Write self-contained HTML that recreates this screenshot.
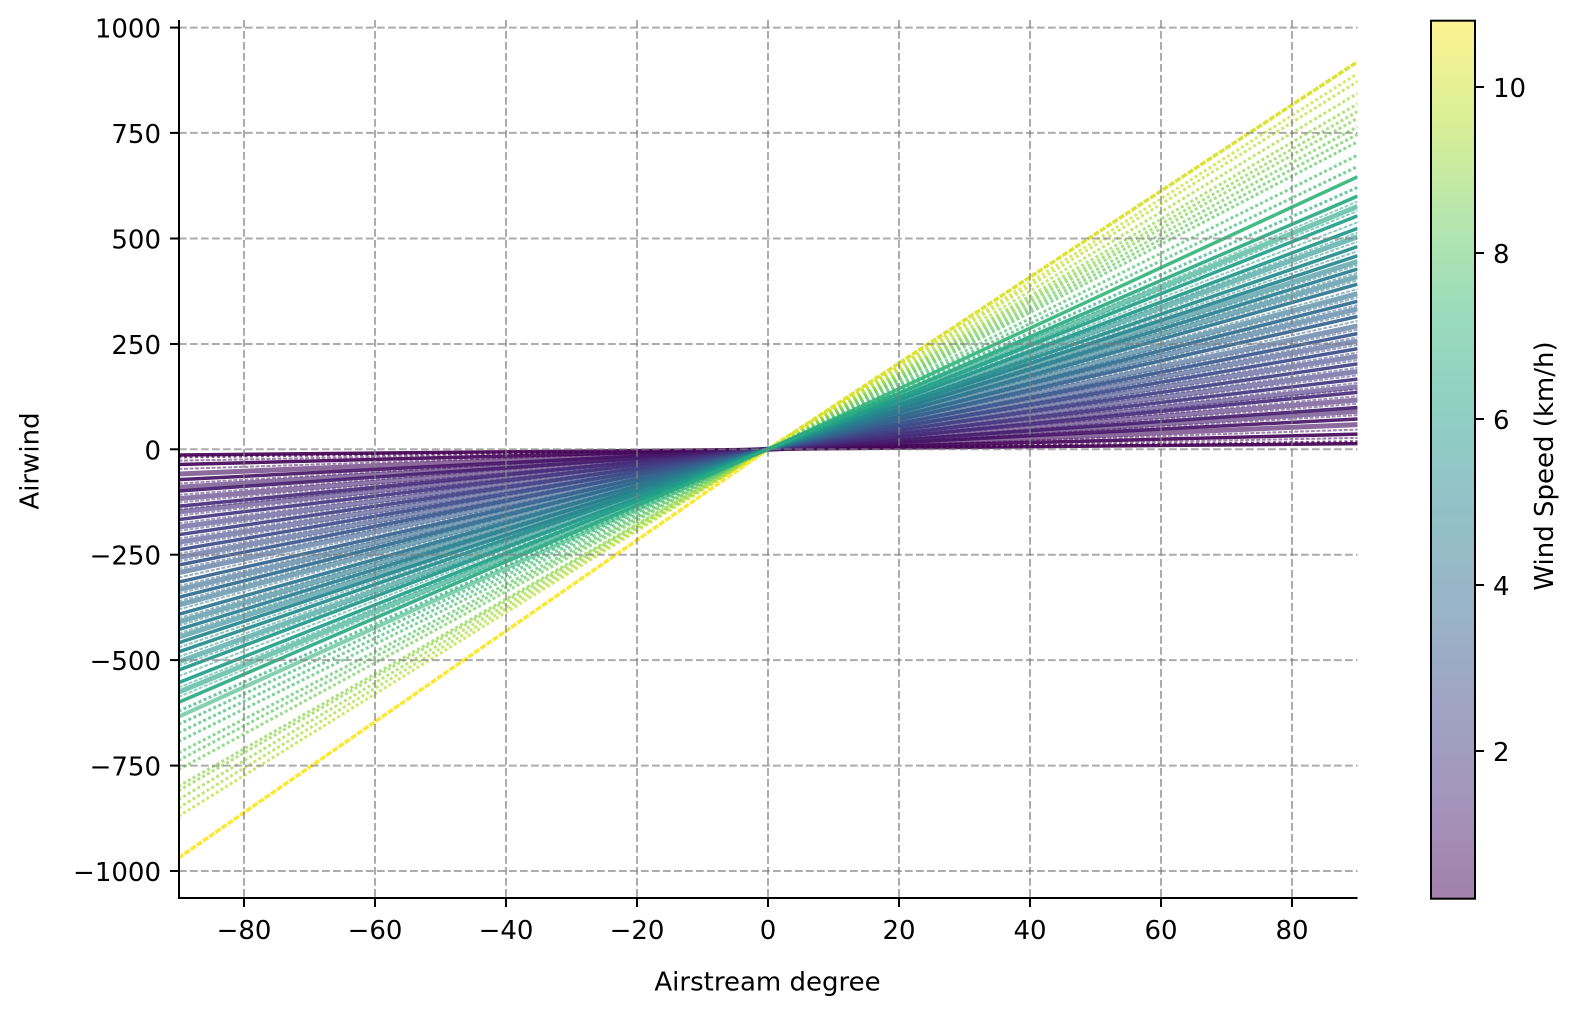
<!DOCTYPE html>
<html>
<head>
<meta charset="utf-8">
<style>
  html, body { margin:0; padding:0; background:#ffffff; }
  body { width:1582px; height:1015px; overflow:hidden; }
  svg { display:block; }
  text { font-family: "DejaVu Sans", "Liberation Sans", sans-serif; font-size:26px; fill:#000; }
  .s { stroke-width:3.5; stroke-opacity:0.92; fill:none; }
  .b { stroke-width:5; stroke-opacity:0.62; fill:none; }
  .t { stroke-width:2; stroke-opacity:0.5; fill:none; stroke-dasharray:4 1.5; }
  .d { stroke-width:3; stroke-opacity:0.7; stroke-dasharray:3 2.5; fill:none; }
  .y { stroke-width:3.5; stroke-opacity:0.95; stroke-dasharray:6 1.5; fill:none; }
  .g { stroke:#808080; stroke-opacity:0.65; stroke-width:2; stroke-dasharray:7.7 3.3; }
  .k { stroke:#000; stroke-width:2; }
</style>
</head>
<body>
<svg width="1582" height="1015" viewBox="0 0 1582 1015" xmlns="http://www.w3.org/2000/svg">
  <defs>
    <clipPath id="pc"><rect x="179" y="20" width="1178.5" height="878"/></clipPath>
    <linearGradient id="cb" x1="0" y1="1" x2="0" y2="0">
      <stop offset="0" stop-color="#a280aa"/>
      <stop offset="0.1111" stop-color="#a494bc"/>
      <stop offset="0.2222" stop-color="#9fa4c4"/>
      <stop offset="0.3333" stop-color="#98b4c7"/>
      <stop offset="0.4444" stop-color="#93c1c7"/>
      <stop offset="0.5556" stop-color="#8fcfc4"/>
      <stop offset="0.6667" stop-color="#9adbbc"/>
      <stop offset="0.7778" stop-color="#b7e7ac"/>
      <stop offset="0.8889" stop-color="#daef95"/>
      <stop offset="1" stop-color="#fef392"/>
    </linearGradient>
  </defs>

  <!-- data -->
  <g clip-path="url(#pc)">
    <!-- thin in-between scatter lines -->
    <line class="t" stroke="#440256" x1="178.5" y1="460.69" x2="1357.5" y2="437.91"/>
    <line class="t" stroke="#450b5e" x1="178.5" y1="469.03" x2="1357.5" y2="429.57"/>
    <line class="t" stroke="#47186a" x1="178.5" y1="483.46" x2="1357.5" y2="415.14"/>
    <line class="t" stroke="#482272" x1="178.5" y1="494.84" x2="1357.5" y2="403.76"/>
    <line class="t" stroke="#482878" x1="178.5" y1="502.43" x2="1357.5" y2="396.17"/>
    <line class="t" stroke="#472d7b" x1="178.5" y1="509.26" x2="1357.5" y2="389.34"/>
    <line class="t" stroke="#45327e" x1="178.5" y1="515.71" x2="1357.5" y2="382.89"/>
    <line class="t" stroke="#433781" x1="178.5" y1="523.30" x2="1357.5" y2="375.30"/>
    <line class="t" stroke="#423d83" x1="178.5" y1="530.89" x2="1357.5" y2="367.71"/>
    <line class="t" stroke="#404386" x1="178.5" y1="538.48" x2="1357.5" y2="360.12"/>
    <line class="t" stroke="#3e4888" x1="178.5" y1="546.07" x2="1357.5" y2="352.53"/>
    <line class="t" stroke="#3c4e89" x1="178.5" y1="553.66" x2="1357.5" y2="344.94"/>
    <line class="t" stroke="#3a538a" x1="178.5" y1="561.25" x2="1357.5" y2="337.35"/>
    <line class="t" stroke="#38588b" x1="178.5" y1="568.84" x2="1357.5" y2="329.76"/>
    <line class="t" stroke="#365f8c" x1="178.5" y1="577.57" x2="1357.5" y2="321.03"/>
    <line class="t" stroke="#33658d" x1="178.5" y1="585.92" x2="1357.5" y2="312.68"/>
    <line class="t" stroke="#31698e" x1="178.5" y1="593.51" x2="1357.5" y2="305.09"/>
    <line class="t" stroke="#2f6e8e" x1="178.5" y1="601.10" x2="1357.5" y2="297.50"/>
    <line class="t" stroke="#2c738e" x1="178.5" y1="609.45" x2="1357.5" y2="289.15"/>
    <line class="t" stroke="#2b788e" x1="178.5" y1="618.18" x2="1357.5" y2="280.42"/>
    <line class="t" stroke="#297c8e" x1="178.5" y1="625.77" x2="1357.5" y2="272.83"/>
    <line class="t" stroke="#27818e" x1="178.5" y1="633.36" x2="1357.5" y2="265.24"/>
    <line class="t" stroke="#25898d" x1="178.5" y1="647.40" x2="1357.5" y2="251.20"/>
    <line class="t" stroke="#238f8c" x1="178.5" y1="656.89" x2="1357.5" y2="241.71"/>
    <line class="t" stroke="#22958b" x1="178.5" y1="665.99" x2="1357.5" y2="232.61"/>
    <line class="t" stroke="#209b89" x1="178.5" y1="676.24" x2="1357.5" y2="222.36"/>
    <line class="t" stroke="#22a287" x1="178.5" y1="687.63" x2="1357.5" y2="210.97"/>
    <line class="t" stroke="#27a783" x1="178.5" y1="697.11" x2="1357.5" y2="201.49"/>

    <!-- bands -->
    <line class="b" stroke="#460f61" x1="178.5" y1="473.97" x2="1357.5" y2="424.63"/>
    <line class="b" stroke="#471b6c" x1="178.5" y1="487.25" x2="1357.5" y2="411.35"/>
    <line class="b" stroke="#482575" x1="178.5" y1="498.64" x2="1357.5" y2="399.96"/>
    <line class="b" stroke="#462f7c" x1="178.5" y1="511.92" x2="1357.5" y2="386.68"/>
    <line class="b" stroke="#423a82" x1="178.5" y1="527.10" x2="1357.5" y2="371.50"/>
    <line class="b" stroke="#3f4687" x1="178.5" y1="542.28" x2="1357.5" y2="356.32"/>
    <line class="b" stroke="#3b508a" x1="178.5" y1="557.46" x2="1357.5" y2="341.14"/>
    <line class="b" stroke="#375b8c" x1="178.5" y1="572.64" x2="1357.5" y2="325.96"/>
    <line class="b" stroke="#32678e" x1="178.5" y1="589.72" x2="1357.5" y2="308.88"/>
    <line class="b" stroke="#2e708e" x1="178.5" y1="604.90" x2="1357.5" y2="293.70"/>
    <line class="b" stroke="#2a7a8e" x1="178.5" y1="621.97" x2="1357.5" y2="276.63"/>
    <line class="b" stroke="#26838e" x1="178.5" y1="637.15" x2="1357.5" y2="261.45"/>
    <line class="b" stroke="#22928b" x1="178.5" y1="661.82" x2="1357.5" y2="236.78"/>
    <line class="b" stroke="#25a485" x1="178.5" y1="692.18" x2="1357.5" y2="206.42"/>

    <!-- scattered / dotted -->
    <line class="d" stroke="#440154" x1="178.5" y1="456.89" x2="1357.5" y2="441.71"/>
    <line class="d" stroke="#2eaf7e" x1="178.5" y1="711.16" x2="1357.5" y2="187.44"/>

    <!-- left-only high lines -->
    <line class="b" stroke="#31b27c" style="stroke-width:4;stroke-opacity:0.6" x1="178.5" y1="716.85" x2="768" y2="449.3"/>
    <line class="d" stroke="#37b877" x1="178.5" y1="724.44" x2="768" y2="449.3"/>
    <line class="d" stroke="#3fbb74" x1="178.5" y1="732.79" x2="768" y2="449.3"/>
    <line class="d" stroke="#49bf6e" x1="178.5" y1="741.52" x2="768" y2="449.3"/>
    <line class="d" stroke="#58c565" x1="178.5" y1="752.90" x2="768" y2="449.3"/>
    <line class="d" stroke="#60c862" x1="178.5" y1="760.49" x2="768" y2="449.3"/>
    <line class="d" stroke="#6ece58" x1="178.5" y1="769.60" x2="768" y2="449.3"/>
    <line class="d" stroke="#88d44b" x1="178.5" y1="786.30" x2="768" y2="449.3"/>
    <line class="d" stroke="#90d645" x1="178.5" y1="790.85" x2="768" y2="449.3"/>
    <line class="d" stroke="#9dd93f" x1="178.5" y1="799.58" x2="768" y2="449.3"/>
    <line class="d" stroke="#abdc36" x1="178.5" y1="807.93" x2="768" y2="449.3"/>
    <line class="d" stroke="#b8de2c" x1="178.5" y1="816.30" x2="768" y2="449.3"/>
    <line class="y" stroke="#fbe725" x1="178.5" y1="858.02" x2="768" y2="449.3"/>

    <!-- right-only high lines -->
    <line class="d" stroke="#3fbb74" x1="768" y1="449.3" x2="1357.5" y2="166.57"/>
    <line class="d" stroke="#4cc06c" x1="768" y1="449.3" x2="1357.5" y2="155.19"/>
    <line class="d" stroke="#5cc763" x1="768" y1="449.3" x2="1357.5" y2="141.90"/>
    <line class="d" stroke="#67cb5c" x1="768" y1="449.3" x2="1357.5" y2="134.30"/>
    <line class="d" stroke="#72cf55" x1="768" y1="449.3" x2="1357.5" y2="126.72"/>
    <line class="d" stroke="#7ed250" x1="768" y1="449.3" x2="1357.5" y2="118.38"/>
    <line class="d" stroke="#89d44a" x1="768" y1="449.3" x2="1357.5" y2="111.54"/>
    <line class="d" stroke="#93d743" x1="768" y1="449.3" x2="1357.5" y2="103.95"/>
    <line class="d" stroke="#a6db39" x1="768" y1="449.3" x2="1357.5" y2="93.33"/>
    <line class="d" stroke="#b9de2b" x1="768" y1="449.3" x2="1357.5" y2="81.56"/>
    <line class="d" stroke="#c6e02a" x1="768" y1="449.3" x2="1357.5" y2="73.59"/>
    <line class="y" stroke="#d9e228" x1="768" y1="449.3" x2="1357.5" y2="61.83"/>
    <line class="s" stroke="#33b57a" x1="768" y1="449.3" x2="1357.5" y2="176.82"/>

    <!-- solid lines -->
    <line class="s" stroke="#440154" x1="178.5" y1="454.99" x2="1357.5" y2="443.61"/>
    <line class="s" stroke="#45065a" x1="178.5" y1="464.48" x2="1357.5" y2="434.12"/>
    <line class="s" stroke="#461466" x1="178.5" y1="479.66" x2="1357.5" y2="418.94"/>
    <line class="s" stroke="#471e6f" x1="178.5" y1="491.05" x2="1357.5" y2="407.55"/>
    <line class="s" stroke="#472b7a" x1="178.5" y1="506.23" x2="1357.5" y2="392.37"/>
    <line class="s" stroke="#44357f" x1="178.5" y1="519.51" x2="1357.5" y2="379.09"/>
    <line class="s" stroke="#414084" x1="178.5" y1="534.69" x2="1357.5" y2="363.91"/>
    <line class="s" stroke="#3d4b89" x1="178.5" y1="549.87" x2="1357.5" y2="348.73"/>
    <line class="s" stroke="#39568b" x1="178.5" y1="565.05" x2="1357.5" y2="333.55"/>
    <line class="s" stroke="#34628d" x1="178.5" y1="582.13" x2="1357.5" y2="316.47"/>
    <line class="s" stroke="#306b8e" x1="178.5" y1="597.31" x2="1357.5" y2="301.29"/>
    <line class="s" stroke="#2b758e" x1="178.5" y1="614.38" x2="1357.5" y2="284.22"/>
    <line class="s" stroke="#287e8e" x1="178.5" y1="629.56" x2="1357.5" y2="269.04"/>
    <line class="s" stroke="#25868d" x1="178.5" y1="642.85" x2="1357.5" y2="255.75"/>
    <line class="s" stroke="#248c8c" x1="178.5" y1="651.95" x2="1357.5" y2="246.65"/>
    <line class="s" stroke="#21978a" x1="178.5" y1="670.17" x2="1357.5" y2="228.43"/>
    <line class="s" stroke="#209f88" x1="178.5" y1="682.69" x2="1357.5" y2="215.91"/>
    <line class="s" stroke="#2aaa81" x1="178.5" y1="702.43" x2="1357.5" y2="196.17"/>
  </g>

  <!-- grid (drawn over data) -->
  <g class="g">
    <line x1="244" y1="20" x2="244" y2="898"/>
    <line x1="375" y1="20" x2="375" y2="898"/>
    <line x1="506" y1="20" x2="506" y2="898"/>
    <line x1="637" y1="20" x2="637" y2="898"/>
    <line x1="768" y1="20" x2="768" y2="898"/>
    <line x1="899" y1="20" x2="899" y2="898"/>
    <line x1="1030" y1="20" x2="1030" y2="898"/>
    <line x1="1161" y1="20" x2="1161" y2="898"/>
    <line x1="1292" y1="20" x2="1292" y2="898"/>
    <line x1="179" y1="27.6" x2="1357.5" y2="27.6"/>
    <line x1="179" y1="132.9" x2="1357.5" y2="132.9"/>
    <line x1="179" y1="238.5" x2="1357.5" y2="238.5"/>
    <line x1="179" y1="344" x2="1357.5" y2="344"/>
    <line x1="179" y1="449.3" x2="1357.5" y2="449.3"/>
    <line x1="179" y1="554.7" x2="1357.5" y2="554.7"/>
    <line x1="179" y1="660.1" x2="1357.5" y2="660.1"/>
    <line x1="179" y1="765.6" x2="1357.5" y2="765.6"/>
    <line x1="179" y1="871" x2="1357.5" y2="871"/>
  </g>

  <!-- spines -->
  <line class="k" x1="179" y1="20" x2="179" y2="899"/>
  <line class="k" x1="178" y1="898" x2="1357.5" y2="898"/>

  <!-- x ticks -->
  <g class="k">
    <line x1="244" y1="898" x2="244" y2="907"/>
    <line x1="375" y1="898" x2="375" y2="907"/>
    <line x1="506" y1="898" x2="506" y2="907"/>
    <line x1="637" y1="898" x2="637" y2="907"/>
    <line x1="768" y1="898" x2="768" y2="907"/>
    <line x1="899" y1="898" x2="899" y2="907"/>
    <line x1="1030" y1="898" x2="1030" y2="907"/>
    <line x1="1161" y1="898" x2="1161" y2="907"/>
    <line x1="1292" y1="898" x2="1292" y2="907"/>
  </g>
  <g text-anchor="middle">
    <text x="244" y="939">−80</text>
    <text x="375" y="939">−60</text>
    <text x="506" y="939">−40</text>
    <text x="637" y="939">−20</text>
    <text x="768" y="939">0</text>
    <text x="899" y="939">20</text>
    <text x="1030" y="939">40</text>
    <text x="1161" y="939">60</text>
    <text x="1292" y="939">80</text>
  </g>

  <!-- y ticks -->
  <g class="k">
    <line x1="170" y1="27.6" x2="179" y2="27.6"/>
    <line x1="170" y1="132.9" x2="179" y2="132.9"/>
    <line x1="170" y1="238.5" x2="179" y2="238.5"/>
    <line x1="170" y1="344" x2="179" y2="344"/>
    <line x1="170" y1="449.3" x2="179" y2="449.3"/>
    <line x1="170" y1="554.7" x2="179" y2="554.7"/>
    <line x1="170" y1="660.1" x2="179" y2="660.1"/>
    <line x1="170" y1="765.6" x2="179" y2="765.6"/>
    <line x1="170" y1="871" x2="179" y2="871"/>
  </g>
  <g text-anchor="end">
    <text x="161" y="37.6">1000</text>
    <text x="161" y="142.9">750</text>
    <text x="161" y="248.5">500</text>
    <text x="161" y="354">250</text>
    <text x="161" y="459.3">0</text>
    <text x="161" y="564.7">−250</text>
    <text x="161" y="670.1">−500</text>
    <text x="161" y="775.6">−750</text>
    <text x="161" y="881">−1000</text>
  </g>

  <!-- axis labels -->
  <text x="767.5" y="990.5" text-anchor="middle">Airstream degree</text>
  <text transform="translate(38.5,461) rotate(-90)" text-anchor="middle">Airwind</text>

  <!-- colorbar -->
  <rect x="1431" y="20.7" width="44" height="878" fill="url(#cb)" stroke="#000" stroke-width="2"/>
  <g class="k">
    <line x1="1475" y1="87" x2="1484" y2="87"/>
    <line x1="1475" y1="253" x2="1484" y2="253"/>
    <line x1="1475" y1="419" x2="1484" y2="419"/>
    <line x1="1475" y1="585" x2="1484" y2="585"/>
    <line x1="1475" y1="751" x2="1484" y2="751"/>
  </g>
  <g text-anchor="start">
    <text x="1493" y="97">10</text>
    <text x="1493" y="263">8</text>
    <text x="1493" y="429">6</text>
    <text x="1493" y="595">4</text>
    <text x="1493" y="761">2</text>
  </g>
  <text transform="translate(1553,466) rotate(-90)" text-anchor="middle">Wind Speed (km/h)</text>
</svg>
</body>
</html>
